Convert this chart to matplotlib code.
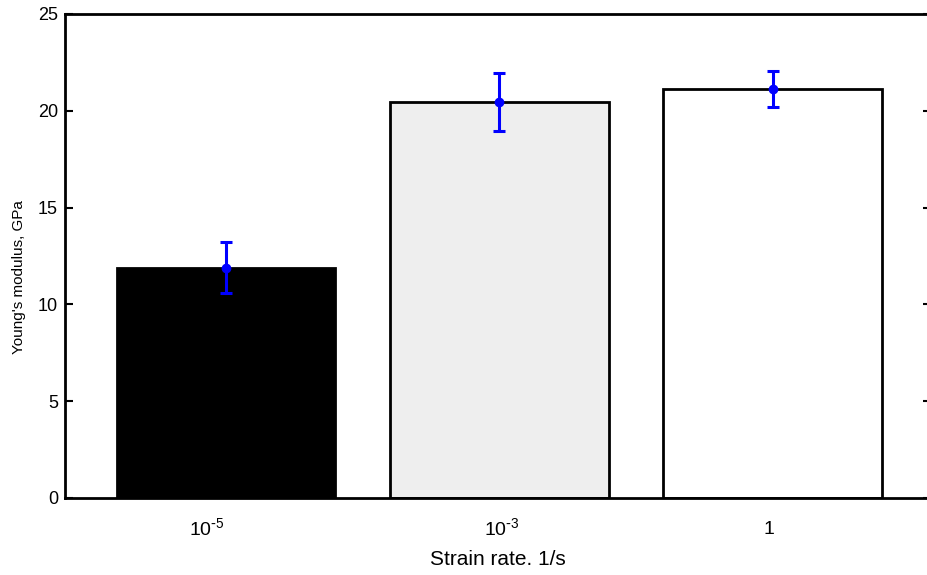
import matplotlib.pyplot as plt
from matplotlib.transforms import ScaledTranslation

plt.rcParams['font.family'] = ['Liberation Sans', 'DejaVu Sans']
plt.rcParams['mathtext.default'] = 'regular'

# Young's modulus at three strain rates
rates = ['10$^{\\text{-}5}$', '10$^{\\text{-}3}$', '1']
modulus = [11.9, 20.45, 21.13]
spread = [1.3, 1.48, 0.92]
fills = ['black', '#eeeeee', 'white']

fig = plt.figure(figsize=(9.28, 5.75), dpi=100)
ax = fig.add_axes([65 / 928, 77 / 575, 866 / 928, 484 / 575])

xpos = [1, 2, 3]
ax.bar(xpos, modulus, width=0.8, color=fills, edgecolor='black', linewidth=2.0, zorder=2)
ax.errorbar(xpos, modulus, yerr=spread, fmt='o', color='blue', markersize=6,
            elinewidth=2.2, capsize=4.5, capthick=2.2, zorder=3)

ax.set_xlim(0.41, 3.58)
ax.set_ylim(0, 25)
ax.set_yticks([0, 5, 10, 15, 20, 25])
ax.set_xticks(xpos)
ax.set_xticklabels(rates)
ax.tick_params(axis='x', length=0, labelsize=14, pad=14)
ax.tick_params(axis='y', direction='in', length=6, width=1.5, labelsize=13,
               right=True, pad=5)
for s in ax.spines.values():
    s.set_linewidth(2.0)

# nudge the tick labels a little (px); the plain "1" sits on the same baseline as "10"
shifts = [(-19, 0), (3, 0), (-4, -4)]
for lab, (dx, dy) in zip(ax.get_xticklabels(), shifts):
    lab.set_transform(lab.get_transform() + ScaledTranslation(dx / 100, dy / 100, fig.dpi_scale_trans))

ax.set_ylabel("Young's modulus, GPa", fontsize=11)
ax.yaxis.set_label_coords(-0.045, 0.457)
ax.set_xlabel('Strain rate. 1/s', fontsize=15, labelpad=8)

fig.savefig('out.png', dpi=100)
